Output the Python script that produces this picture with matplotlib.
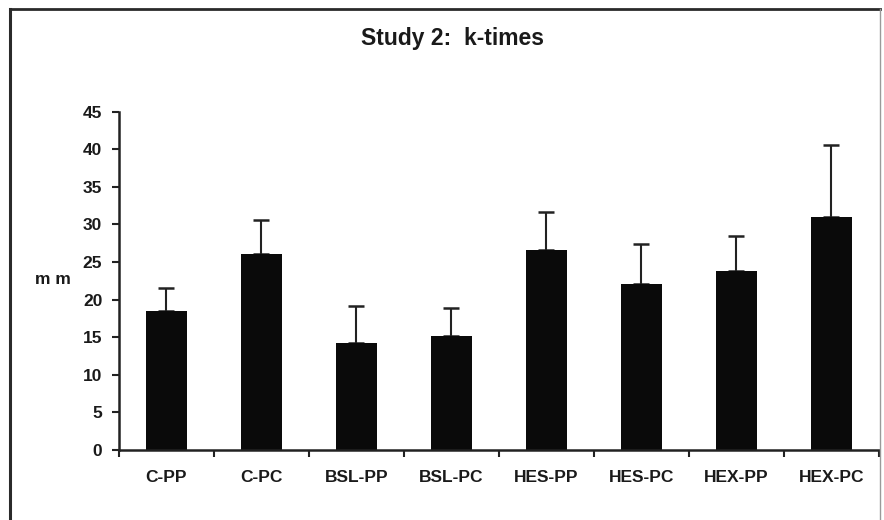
import numpy as np
import matplotlib.pyplot as plt
from matplotlib.lines import Line2D

# k-times per group, mean and SD (mm)
groups = ['C-PP', 'C-PC', 'BSL-PP', 'BSL-PC', 'HES-PP', 'HES-PC', 'HEX-PP', 'HEX-PC']
means = [18.5, 26.1, 14.2, 15.2, 26.6, 22.1, 23.8, 31.0]
sds = [3.0, 4.5, 5.0, 3.7, 5.0, 5.3, 4.6, 9.6]
yticks = [0, 5, 10, 15, 20, 25, 30, 35, 40, 45]

plt.rcParams['font.family'] = ['Liberation Sans', 'DejaVu Sans']
plt.rcParams['font.weight'] = 'bold'

fig = plt.figure(figsize=(8.84, 5.2), dpi=100)
ax = fig.add_axes([0.1346, 0.1346, 0.8597, 0.6506])

x = np.arange(len(groups))
ax.bar(x, means, width=0.43, color='#0a0a0a', zorder=2)
ax.errorbar(x, means, yerr=[np.zeros(len(sds)), sds], fmt='none',
            ecolor='#222222', elinewidth=1.5, capsize=5.8, capthick=1.8, zorder=1)

ax.set_xlim(-0.5, len(groups) - 0.5)
ax.set_ylim(0, 45)
ax.set_yticks(yticks)
ax.set_xticks(x)
ax.set_xticklabels(groups)
ax.set_xticks(np.arange(-0.5, len(groups)), minor=True)

ax.tick_params(axis='x', which='major', length=0, pad=14.5, labelsize=12.5)
ax.tick_params(axis='x', which='minor', length=5, width=1.5, color='#222222', direction='out')
ax.tick_params(axis='y', length=5, width=1.5, color='#222222', pad=7, labelsize=12.5)
for lbl in ax.get_xticklabels() + ax.get_yticklabels():
    lbl.set_fontweight('bold')
    lbl.set_color('#1a1a1a')

for side in ['top', 'right']:
    ax.spines[side].set_visible(False)
for side in ['left', 'bottom']:
    ax.spines[side].set_linewidth(1.8)
    ax.spines[side].set_color('#222222')

fig.text(53 / 884, 1 - 280 / 520, 'm m', ha='center', va='center',
         fontsize=12.5, fontweight='bold', color='#1a1a1a')
fig.text(453 / 884, 0.925, 'Study 2:  k-times', ha='center', va='center',
         fontsize=16.5, fontweight='bold', color='#1a1a1a')

# outer frame: heavy left and top edges, faint right edge
left, top, right = 9.5 / 884, 1 - 8.5 / 520, 880 / 884
fig.add_artist(Line2D([left, left], [0, top], transform=fig.transFigure,
                      color='#2a2a2a', linewidth=2.2))
fig.add_artist(Line2D([left, right], [top, top], transform=fig.transFigure,
                      color='#2a2a2a', linewidth=2.0))
fig.add_artist(Line2D([right, right], [0, top], transform=fig.transFigure,
                      color='#9a9a9a', linewidth=1.0))

fig.savefig('out.png', dpi=100)
